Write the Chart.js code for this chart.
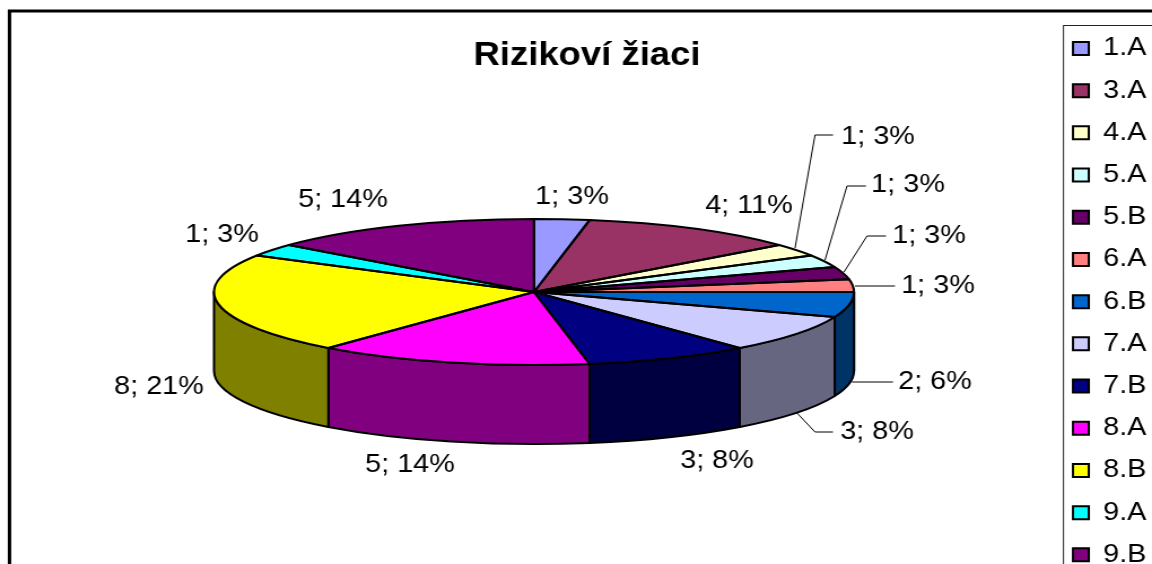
<!DOCTYPE html>
<html>
<head>
<meta charset="utf-8">
<style>
html,body{margin:0;padding:0;width:1152px;height:564px;overflow:hidden;background:#fff}
#wrap{position:absolute;left:0;top:0;width:1020px;height:720px;transform-origin:0 0;transform:scaleX(1.12941)}
</style>
<script src="https://cdn.jsdelivr.net/npm/chart.js@4"></script>
</head>
<body>
<div id="wrap"><canvas id="c" width="1020" height="720"></canvas></div>
<script>
const categories = ['1.A','3.A','4.A','5.A','5.B','6.A','6.B','7.A','7.B','8.A','8.B','9.A','9.B'];
const values = [1,4,1,1,1,1,2,3,3,5,8,1,5];
const percentLabels = ['3%','11%','3%','3%','3%','3%','6%','8%','8%','14%','21%','3%','14%'];
const colors = ['#9999FF','#993366','#FFFFCC','#CCFFFF','#660066','#FF8080','#0066CC','#CCCCFF','#000080','#FF00FF','#FFFF00','#00FFFF','#800080'];
const chartTitle = 'Rizikoví žiaci';

// Layout, in pixels of the 1152-wide picture
const STRETCH = 1152 / 1020;
const PIE = {cx: 534, cy: 292, rx: 320, ry: 73, depth: 79};
const labelLayout = [
  {x:572,y:197},
  {x:749,y:206},
  {x:878,y:137,line:[[795,248],[815,135],[833,135]]},
  {x:908,y:185,line:[[825,260],[847,186],[866,186]]},
  {x:929,y:236,line:[[844,272],[867,236],[886,236]]},
  {x:938,y:286,line:[[855,286],[895,286]]},
  {x:935,y:382,line:[[852,382],[893,382]]},
  {x:877,y:432,line:[[797,413],[815,432],[833,432]]},
  {x:717,y:461},
  {x:410,y:465},
  {x:159,y:387},
  {x:222,y:235},
  {x:343,y:200}
];
const sx = v => v / STRETCH;

function darken(hex){
  const n = parseInt(hex.slice(1),16);
  const h = v => Math.round(v/2).toString(16).padStart(2,'0');
  return '#'+h(n>>16&255)+h(n>>8&255)+h(n&255);
}

const pie3d = {
  id:'pie3d',
  beforeDraw(chart){
    const c = chart.ctx;
    c.save();
    c.fillStyle='#fff';
    c.fillRect(0,0,chart.width,chart.height);
    c.strokeStyle='#000';
    c.lineWidth=3;
    c.strokeRect(sx(9.5),11,chart.width+20,chart.height);
    c.strokeStyle='#222';
    c.lineWidth=1;
    c.strokeRect(sx(1063.5),25.5,chart.width,chart.height);
    c.restore();
  },
  afterLayout(chart){
    const lg = chart.legend;
    const w = lg.right - lg.left;
    lg.left = sx(1073) - lg.options.labels.padding;
    lg.right = lg.left + w;
    lg.top = 19;
    const t = chart.titleBlock;
    t.left = 0; t.right = sx(587)*2;
  },
  beforeDatasetDraw(chart){
    const c = chart.ctx, arcs = chart.getDatasetMeta(0).data;
    const cx = sx(PIE.cx), rx = sx(PIE.rx);
    c.save();
    c.lineWidth = 2; c.strokeStyle = '#000'; c.lineJoin='round';
    arcs.forEach((el,i)=>{
      const a = Math.max(el.startAngle,0), b = Math.min(el.endAngle,Math.PI);
      if (b <= a) return;
      c.beginPath();
      c.ellipse(cx,PIE.cy,rx,PIE.ry,0,a,b);
      c.ellipse(cx,PIE.cy+PIE.depth,rx,PIE.ry,0,b,a,true);
      c.closePath();
      c.fillStyle = darken(colors[i]);
      c.fill(); c.stroke();
    });
    c.restore();
    const el0 = arcs[0];
    c.save();
    c.translate(cx,PIE.cy);
    c.scale(rx/el0.outerRadius,PIE.ry/el0.outerRadius);
    c.translate(-el0.x,-el0.y);
  },
  afterDatasetDraw(chart){
    const c = chart.ctx, arcs = chart.getDatasetMeta(0).data;
    c.restore();
    const cx = sx(PIE.cx), rx = sx(PIE.rx);
    c.save();
    c.lineWidth = 2; c.strokeStyle = '#000'; c.lineJoin='round';
    arcs.forEach(el=>{
      c.beginPath();
      c.moveTo(cx,PIE.cy);
      c.ellipse(cx,PIE.cy,rx,PIE.ry,0,el.startAngle,el.endAngle);
      c.closePath();
      c.stroke();
    });
    c.lineWidth = 1; c.fillStyle='#000';
    c.font = '25.5px "Liberation Sans"';
    c.textAlign='center'; c.textBaseline='middle';
    labelLayout.forEach((p,i)=>{
      if (p.line){
        c.beginPath();
        p.line.forEach((q,j)=> j ? c.lineTo(sx(q[0]),q[1]) : c.moveTo(sx(q[0]),q[1]));
        c.stroke();
      }
      c.fillText(values[i]+'; '+percentLabels[i], sx(p.x), p.y);
    });
    c.restore();
  }
};

new Chart(document.getElementById('c'),{
  type:'pie',
  data:{labels:categories,datasets:[{data:values,backgroundColor:colors,borderWidth:0,clip:false}]},
  options:{
    responsive:false,
    animation:false,
    radius:200,
    plugins:{
      title:{display:true,text:chartTitle,color:'#000',font:{family:'"Liberation Sans"',size:32.3,weight:'bold'},padding:{top:37,bottom:0}},
      legend:{
        position:'right',align:'start',
        labels:{
          color:'#000',font:{family:'"Liberation Sans"',size:25.5},
          boxWidth:14,boxHeight:13,padding:16.7,
          generateLabels(chart){
            return Chart.overrides.pie.plugins.legend.labels.generateLabels(chart).map(l=>Object.assign(l,{strokeStyle:'#000',lineWidth:2}));
          }
        }
      },
      tooltip:{enabled:false}
    }
  },
  plugins:[pie3d]
});
</script>
</body>
</html>
